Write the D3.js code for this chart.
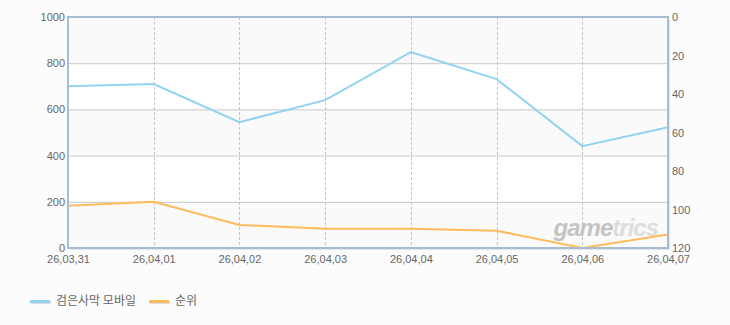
<!DOCTYPE html>
<html>
<head>
<meta charset="utf-8">
<script src="https://cdn.jsdelivr.net/npm/d3@7"></script>
<style>
  body { margin: 0; background: #fcfcfc; }
  svg { display: block; }
  .tick text { font-family: "Liberation Sans", Arial, sans-serif; font-size: 11px; fill: #666; }
</style>
</head>
<body>
<svg width="730" height="325"></svg>
<script>
document.addEventListener("DOMContentLoaded", function () {

  var dates = ["26,03,31", "26,04,01", "26,04,02", "26,04,03", "26,04,04", "26,04,05", "26,04,06", "26,04,07"]
  var users = [700, 710, 545, 640, 848, 731, 441, 523]
  var rank = [98, 96, 108, 110, 110, 111, 120, 113]
  var leftTicks = [0, 200, 400, 600, 800, 1000]
  var rightTicks = [0, 20, 40, 60, 80, 100, 120]
  var seriesNames = ["검은사막 모바일", "순위"]
  var colors = ["#92d3f3", "#fdbb5c"]

  var left = 68, right = 668, top = 17, bottom = 248
  var svg = d3.select("svg")

  var xScale = d3.scalePoint().domain(dates).range([left, right])
  var yScale = d3.scaleLinear().domain([0, 1000]).range([bottom, top])
  var rScale = d3.scaleLinear().domain([0, 120]).range([top, bottom])

  // shadow
  svg.append("rect").attr("x", left + 2).attr("y", top + 2)
    .attr("width", right - left).attr("height", bottom - top)
    .style("fill", "#e4e4e4")
  svg.append("rect").attr("x", left).attr("y", top)
    .attr("width", right - left).attr("height", bottom - top)
    .style("fill", "#fafafa")

  // white bands
  svg.selectAll("rect.band")
    .data([[200, 400], [600, 800]])
    .enter().append("rect").attr("class", "band")
    .attr("x", left).attr("width", right - left)
    .attr("y", function (d) { return yScale(d[1]) })
    .attr("height", function (d) { return yScale(d[0]) - yScale(d[1]) })
    .style("fill", "#ffffff")

  // horizontal grid
  svg.selectAll("line.hgrid")
    .data(leftTicks.slice(1, -1))
    .enter().append("line").attr("class", "hgrid")
    .attr("x1", left).attr("x2", right)
    .attr("y1", function (d) { return yScale(d) + 0.5 })
    .attr("y2", function (d) { return yScale(d) + 0.5 })
    .style("stroke", "#c8c8c8")

  // vertical dashed grid
  svg.selectAll("line.vgrid")
    .data(dates.slice(1, -1))
    .enter().append("line").attr("class", "vgrid")
    .attr("x1", function (d) { return Math.round(xScale(d)) + 0.5 })
    .attr("x2", function (d) { return Math.round(xScale(d)) + 0.5 })
    .attr("y1", top).attr("y2", bottom)
    .style("stroke", "#c4c4c4")
    .style("stroke-dasharray", "3,2")

  // watermark
  var wm = svg.append("text").attr("x", 658).attr("y", 236)
    .attr("text-anchor", "end")
    .style("font-family", "'Liberation Sans', Arial, sans-serif")
    .style("font-size", "24px").style("font-weight", "bold").style("font-style", "italic")
    .style("letter-spacing", "-1px")
  wm.append("tspan").style("fill", "#c4c4c4").text("game")
  wm.append("tspan").style("fill", "#dddddd").text("trics")

  // lines
  var line = d3.line().x(function (d, i) { return xScale(dates[i]) })
  svg.append("path").datum(users)
    .attr("d", line.y(function (d) { return yScale(d) }))
    .style("fill", "none").style("stroke", colors[0]).style("stroke-width", 2)
  svg.append("path").datum(rank)
    .attr("d", line.y(function (d) { return rScale(d) }))
    .style("fill", "none").style("stroke", colors[1]).style("stroke-width", 2)

  // frame
  svg.append("rect").attr("x", left).attr("y", top)
    .attr("width", right - left).attr("height", bottom - top)
    .style("fill", "none").style("stroke", "#a8bcd2").style("stroke-width", 2)

  // axes
  var yAxis = d3.axisLeft(yScale).tickValues(leftTicks).tickFormat(d3.format("d")).tickSize(0).tickPadding(2)
  svg.append("g").attr("transform", "translate(" + (left - 1) + ",0)").call(yAxis)
  var rAxis = d3.axisRight(rScale).tickValues(rightTicks).tickFormat(d3.format("d")).tickSize(0).tickPadding(3)
  svg.append("g").attr("transform", "translate(" + (right + 1) + ",0)").call(rAxis)
  var xAxis = d3.axisBottom(xScale).tickSize(0).tickPadding(6)
  svg.append("g").attr("transform", "translate(0," + (bottom + 1) + ")").call(xAxis)
  svg.selectAll(".domain").remove()

  // legend
  var legend = svg.selectAll("g.legend")
    .data(seriesNames)
    .enter().append("g").attr("class", "legend")
    .attr("transform", function (d, i) { return "translate(" + [30, 149][i] + ",301)" })
  legend.append("rect").attr("x", 1).attr("y", 0).attr("width", 20).attr("height", 3)
    .style("fill", "#dddddd")
  legend.append("rect").attr("x", 0).attr("y", -1).attr("width", 20).attr("height", 3)
    .style("fill", function (d, i) { return colors[i] })
  legend.append("text").attr("x", 26).attr("y", 4)
    .style("font-family", "'Noto Sans CJK KR', sans-serif")
    .style("font-size", "12px").style("fill", "#666")
    .text(function (d) { return d })

});
</script>
</body>
</html>
